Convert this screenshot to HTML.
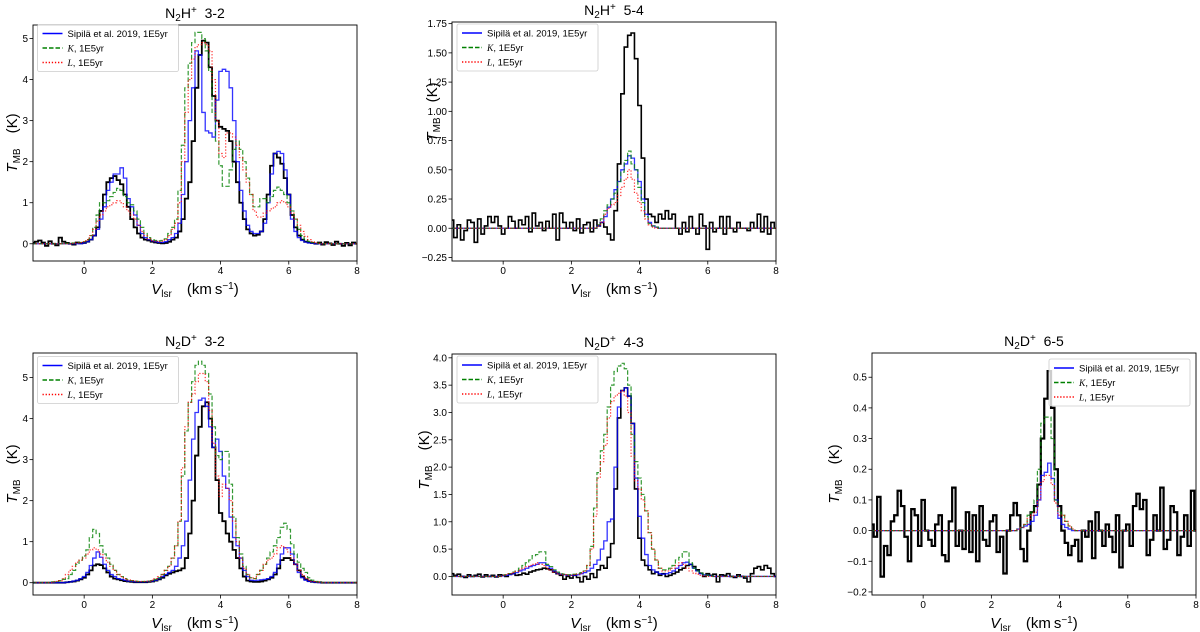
<!DOCTYPE html>
<html><head><meta charset="utf-8"><style>
html,body{margin:0;padding:0;background:#fff;}
svg{display:block;font-family:"Liberation Sans","DejaVu Sans",sans-serif;}
</style></head><body>
<svg id="chart" width="1200" height="632" viewBox="0 0 1200 632" xmlns="http://www.w3.org/2000/svg"></svg>
<script>
// ---- data (values in K, channels of 0.1 km/s; *Start = velocity of first channel) ----
const xTicks=[0,2,4,6,8];
const p1YTicks=[0,1,2,3,4,5];
const p2YTicks=[-0.25,0,0.25,0.5,0.75,1.0,1.25,1.5,1.75];
const p3YTicks=[0,1,2,3,4,5];
const p4YTicks=[0,0.5,1,1.5,2,2.5,3,3.5,4];
const p5YTicks=[-0.2,-0.1,0,0.1,0.2,0.3,0.4,0.5];
const p1YLabels=["0","1","2","3","4","5"];
const p2YLabels=["\u22120.25","0.00","0.25","0.50","0.75","1.00","1.25","1.50","1.75"];
const p3YLabels=["0","1","2","3","4","5"];
const p4YLabels=["0.0","0.5","1.0","1.5","2.0","2.5","3.0","3.5","4.0"];
const p5YLabels=["\u22120.2","\u22120.1","0.0","0.1","0.2","0.3","0.4","0.5"];

const p1ObsStart=-1.5;
const p1Obs=[0.02,0.05,0.08,0.03,-0.05,0.06,0,-0.04,0.15,0.05,0.02,0,-0.02,0.03,0.01,
0.02,0.05,0.1,0.2,0.4,0.8,1.2,1.5,1.6,1.65,1.55,1.45,1.2,0.9,0.6,0.4,0.25,0.15,0.1,0.08,0.05,0.03,0.02,0.01,0.02,0.05,0.1,0.15,0.3,0.6,1.1,1.5,2.5,3.8,4.6,4.95,4.9,4.3,3.6,3.0,2.85,2.8,2.75,2.5,2.0,1.5,1.0,0.6,0.35,0.25,0.2,0.22,0.3,0.6,1.2,1.9,2.2,2.1,1.95,1.6,1.2,0.7,0.4,0.2,0.1,0.05,0.03,
0.02,0,0.03,-0.02,0.04,0.01,-0.03,0.05,0,-0.05,0.02,-0.04,0.03];
const p1BlueStart=0.0;
const p1Blue=[0.02,0.05,0.1,0.2,0.35,0.6,0.9,1.3,1.5,1.7,1.7,1.85,1.6,1.1,0.9,0.7,0.45,0.25,0.15,0.1,0.07,0.05,0.03,0.03,0.05,0.1,0.15,0.25,0.5,1.2,2.0,3.0,3.8,4.7,4.6,3.2,2.75,2.7,2.6,3.5,4.2,4.25,4.2,3.8,3.0,2.0,1.3,0.8,0.45,0.3,0.25,0.25,0.3,0.5,1.0,1.7,2.2,2.25,2.2,1.8,1.2,0.6,0.3,0.15,0.08,0.04,0.02,0.01];
const p1GreenStart=-0.5;
const p1Green=[0.01,0.01,0.02,0.02,0.03,0.05,0.1,0.2,0.4,0.7,1.0,1.0,1.05,1.15,1.25,1.35,1.3,1.15,1.0,0.95,0.8,0.6,0.4,0.25,0.15,0.1,0.08,0.07,0.08,0.12,0.25,0.4,0.6,1.3,2.4,3.8,4.4,4.9,5.15,5.15,5.0,4.7,4.2,3.2,2.5,1.9,1.4,1.4,1.8,2.3,2.5,2.3,2.0,1.6,1.2,0.9,0.9,1.1,1.1,1.0,1.15,1.3,1.38,1.3,1.2,1.0,0.8,0.6,0.35,0.2,0.1,0.06,0.03,0.02,0.01];
const p1RedStart=-0.5;
const p1Red=[0,0,0.01,0.02,0.03,0.05,0.1,0.2,0.35,0.55,0.7,0.8,0.9,0.95,1.0,1.05,1.0,0.9,0.8,0.7,0.6,0.45,0.3,0.2,0.12,0.08,0.06,0.05,0.06,0.1,0.2,0.35,0.5,1.0,2.0,3.2,4.0,4.5,4.8,4.85,4.9,4.85,4.7,4.0,3.0,2.2,2.1,2.7,2.7,2.6,2.4,2.1,1.8,1.5,1.2,0.8,0.65,0.65,0.75,0.8,0.85,0.9,1.0,1.05,1.0,0.9,0.75,0.6,0.45,0.3,0.18,0.1,0.05,0.02,0.01];

const p2ObsStart=-1.5;
const p2Obs=[0.07,-0.08,0.03,-0.1,-0.02,0.07,0.05,-0.12,0.08,-0.05,0.02,0.1,0.05,0.1,0.02,-0.05,0.0,0.1,0.06,0.0,0.07,0.03,0.1,-0.03,0.13,0.02,0.05,-0.02,0.06,0.0,0.12,-0.1,0.13,0.05,0.0,0.05,-0.02,0.08,-0.04,0.03,0.05,-0.03,0.07,0.02,0.05,0.01,-0.05,-0.1,0.15,0.55,1.15,1.55,1.65,1.67,1.45,1.05,0.6,0.25,0.12,0.1,0.05,0.12,0.08,0.15,0.08,0.12,0.0,-0.05,0.05,-0.03,0.1,0.0,-0.05,0.12,0.02,-0.18,0.05,-0.03,0.0,0.1,-0.05,0.1,0.0,-0.03,0.05,0.0,0.0,-0.02,0.05,0.0,0.12,-0.03,0.1,-0.05,0.05];
const p2BlueStart=2.8;
const p2Blue=[0.02,0.05,0.1,0.18,0.25,0.33,0.4,0.5,0.55,0.62,0.6,0.5,0.4,0.25,0.12,0.05,0.02,0.01];
const p2GreenStart=2.8;
const p2Green=[0.03,0.08,0.15,0.2,0.25,0.3,0.4,0.48,0.58,0.66,0.55,0.5,0.35,0.22,0.1,0.04,0.02,0.01];
const p2RedStart=2.8;
const p2Red=[0.02,0.05,0.12,0.17,0.2,0.22,0.28,0.35,0.42,0.5,0.42,0.3,0.22,0.15,0.08,0.03,0.01];

const p3ObsStart=-0.5;
const p3Obs=[0.01,0.02,0.03,0.05,0.08,0.12,0.2,0.3,0.42,0.45,0.43,0.35,0.25,0.15,0.1,0.08,0.06,0.04,0.03,0.02,0.01,0.01,0.01,0.01,0.02,0.03,0.05,0.08,0.12,0.18,0.22,0.25,0.28,0.3,0.35,0.6,1.2,2.0,3.1,3.8,4.3,4.4,4.0,3.3,2.5,1.7,1.5,1.2,1.0,0.8,0.6,0.35,0.15,0.05,0.03,0.02,0.02,0.03,0.05,0.08,0.12,0.2,0.35,0.55,0.6,0.6,0.55,0.45,0.3,0.15,0.08,0.04,0.02,0.01,0.01];
const p3BlueStart=-0.5;
const p3Blue=[0.01,0.02,0.04,0.06,0.1,0.15,0.25,0.42,0.6,0.75,0.62,0.45,0.3,0.2,0.15,0.1,0.08,0.06,0.04,0.03,0.02,0.02,0.02,0.02,0.03,0.04,0.06,0.1,0.15,0.2,0.25,0.3,0.4,0.6,0.9,1.5,2.5,3.5,4.15,4.45,4.5,4.3,3.8,3.3,3.5,3.2,2.6,2.3,1.6,1.1,0.9,0.6,0.3,0.15,0.06,0.05,0.06,0.07,0.08,0.1,0.15,0.25,0.45,0.7,0.85,0.85,0.7,0.45,0.25,0.12,0.06,0.03,0.02,0.01];
const p3GreenStart=-1.0;
const p3Green=[0,0.02,0.03,0.05,0.08,0.1,0.2,0.3,0.45,0.55,0.65,0.8,1.1,1.3,1.2,0.9,0.7,0.6,0.45,0.3,0.2,0.15,0.1,0.07,0.05,0.04,0.03,0.03,0.03,0.04,0.05,0.08,0.12,0.2,0.3,0.4,0.6,0.9,1.5,2.6,3.7,4.4,4.9,5.3,5.4,5.3,5.1,4.6,3.8,3.1,3.0,3.2,3.2,2.4,1.6,1.1,0.7,0.4,0.2,0.12,0.1,0.2,0.3,0.45,0.6,0.75,0.9,1.1,1.35,1.45,1.3,0.95,0.7,0.5,0.35,0.25,0.12,0.06,0.03,0.01];
const p3RedStart=-1.0;
const p3Red=[0,0.02,0.03,0.05,0.1,0.2,0.3,0.4,0.5,0.55,0.6,0.7,0.8,0.85,0.8,0.7,0.6,0.5,0.4,0.3,0.2,0.15,0.1,0.07,0.05,0.04,0.03,0.03,0.03,0.04,0.06,0.1,0.15,0.2,0.3,0.4,0.6,0.9,1.5,2.8,3.8,4.4,4.6,4.9,5.1,5.1,4.9,4.2,3.4,2.6,2.1,2.4,2.3,2.0,1.5,1.0,0.6,0.35,0.2,0.12,0.1,0.2,0.3,0.45,0.55,0.6,0.7,0.85,0.9,0.85,0.75,0.6,0.45,0.3,0.2,0.12,0.06,0.03,0.02,0.01];

const p4ObsStart=-1.5;
const p4Obs=[0.05,0.02,0.04,0,-0.02,0.03,0,0.02,0.04,-0.01,0.03,0,0.02,-0.01,0.03,
0.02,0,0.04,0.05,0.02,0.03,0.06,0.04,0.08,0.1,
0.12,0.13,0.15,0.14,0.12,0.08,0.05,0.02,-0.05,0.0,
-0.03,0.02,-0.02,-0.1,0.0,-0.05,0.05,-0.02,0.12,0.2,
0.15,0.35,0.6,1.6,2.9,3.4,3.45,3.3,2.8,1.6,
0.7,0.3,0.2,0.12,0.05,0.08,0.02,0.05,0.0,0.02,
0.05,0.08,0.12,0.15,0.2,0.22,0.18,0.12,0.06,0.0,
0.05,0.02,0.04,-0.1,0.03,0.02,0.05,0.0,-0.02,0.03,
0.0,-0.03,-0.1,0.05,0.15,0.18,0.12,0.2,0.15,0.05];
const p4BlueStart=0.0;
const p4Blue=[0.01,0.02,0.03,0.05,0.07,0.1,0.12,0.15,0.18,0.2,0.22,0.25,0.25,0.2,0.15,0.1,0.06,0.04,0.03,0.02,0.02,0.02,0.03,0.05,0.07,0.1,0.15,0.22,0.3,0.5,0.65,1.0,1.05,2.0,3.1,3.4,3.45,3.3,2.8,1.8,1.1,0.7,0.4,0.2,0.12,0.08,0.05,0.04,0.05,0.07,0.1,0.15,0.2,0.25,0.26,0.22,0.15,0.1,0.05,0.03,0.02,0.01];
const p4GreenStart=0.0;
const p4Green=[0.02,0.03,0.05,0.08,0.1,0.15,0.2,0.25,0.3,0.38,0.4,0.45,0.45,0.22,0.18,0.12,0.08,0.05,0.04,0.03,0.03,0.04,0.05,0.07,0.1,0.2,0.55,1.25,1.9,2.3,2.6,3.1,3.5,3.75,3.85,3.9,3.8,3.5,2.6,2.1,1.8,1.5,1.2,0.8,0.5,0.3,0.15,0.12,0.12,0.15,0.2,0.3,0.35,0.45,0.45,0.25,0.15,0.1,0.06,0.04,0.02,0.01];
const p4RedStart=0.0;
const p4Red=[0.02,0.03,0.05,0.07,0.09,0.12,0.15,0.18,0.2,0.22,0.25,0.22,0.2,0.15,0.12,0.08,0.05,0.04,0.03,0.02,0.02,0.03,0.04,0.06,0.1,0.2,0.5,1.1,1.8,2.1,2.4,2.9,3.2,3.3,3.35,3.4,3.3,3.0,2.2,1.75,1.6,1.4,1.2,0.8,0.5,0.3,0.15,0.1,0.1,0.12,0.15,0.2,0.25,0.22,0.15,0.1,0.06,0.04,0.02,0.01];

const p5ObsStart=-1.5;
const p5Obs=[0.02,-0.02,0.11,-0.15,-0.05,-0.08,0.03,0.05,0.13,0.08,
-0.02,-0.1,0.07,0.05,-0.05,0.1,0.0,-0.03,-0.05,0.02,
0.05,-0.08,-0.1,0.03,0.14,-0.05,0.0,-0.06,0.06,-0.07,
0.05,-0.1,0.08,-0.03,-0.05,0.03,0.05,-0.07,-0.02,-0.14,
0.0,0.05,0.09,0.05,-0.06,-0.1,0.0,0.06,0.08,0.15,
0.3,0.43,0.52,0.4,0.2,0.08,0.0,-0.04,-0.08,-0.05,
-0.03,-0.1,0.0,-0.02,0.03,-0.09,0.06,0.0,-0.05,0.02,
-0.02,-0.07,0.05,-0.12,0.0,0.02,-0.05,0.08,0.12,0.07,
0.1,-0.08,-0.03,0.05,0.0,0.14,-0.06,-0.03,0.08,0.06,
-0.08,-0.02,0.05,-0.05,0.13];
const p5BlueStart=2.8;
const p5Blue=[0.005,0.01,0.015,0.02,0.03,0.05,0.1,0.18,0.19,0.22,0.17,0.1,0.04,0.02,0.01,0.005];
const p5GreenStart=2.8;
const p5Green=[0.005,0.01,0.02,0.05,0.06,0.1,0.2,0.35,0.37,0.37,0.3,0.1,0.06,0.05,0.03,0.015,0.005];
const p5RedStart=2.8;
const p5Red=[0.005,0.01,0.02,0.04,0.05,0.06,0.1,0.16,0.18,0.18,0.15,0.09,0.05,0.05,0.03,0.015,0.005];

const NS="http://www.w3.org/2000/svg";
const svg=document.getElementById('chart');
function mk(tag,attrs,parent){const e=document.createElementNS(NS,tag);for(const k in attrs)e.setAttribute(k,attrs[k]);(parent||svg).appendChild(e);return e;}

const panels=[
 {id:'n2h-32',mol:['N','2','H','+',' 3-2'],L:33,R:357,T:25,B:261,y0:-0.42,y1:5.33,yt:p1YTicks,yl:p1YLabels,obs:[p1ObsStart,p1Obs],blue:[p1BlueStart,p1Blue],green:[p1GreenStart,p1Green],red:[p1RedStart,p1Red],leg:[37.5,24.5],ylx:12,yly:143,obsW:1.8},
 {id:'n2h-54',mol:['N','2','H','+',' 5-4'],L:452,R:776,T:22,B:261,y0:-0.28,y1:1.764,yt:p2YTicks,yl:p2YLabels,obs:[p2ObsStart,p2Obs],blue:[p2BlueStart,p2Blue],green:[p2GreenStart,p2Green],red:[p2RedStart,p2Red],leg:[457,24],ylx:432,yly:112,obsW:1.6},
 {id:'n2d-32',mol:['N','2','D','+',' 3-2'],L:33,R:357,T:353,B:595,y0:-0.3,y1:5.6,yt:p3YTicks,yl:p3YLabels,obs:[p3ObsStart,p3Obs],blue:[p3BlueStart,p3Blue],green:[p3GreenStart,p3Green],red:[p3RedStart,p3Red],leg:[37.5,356.5],ylx:12,yly:474,obsW:1.8},
 {id:'n2d-43',mol:['N','2','D','+',' 4-3'],L:452,R:776,T:354,B:595,y0:-0.34,y1:4.07,yt:p4YTicks,yl:p4YLabels,obs:[p4ObsStart,p4Obs],blue:[p4BlueStart,p4Blue],green:[p4GreenStart,p4Green],red:[p4RedStart,p4Red],leg:[457,356],ylx:424,yly:460,obsW:1.6},
 {id:'n2d-65',mol:['N','2','D','+',' 6-5'],L:872,R:1196,T:353,B:595,y0:-0.21,y1:0.579,yt:p5YTicks,yl:p5YLabels,obs:[p5ObsStart,p5Obs],blue:[p5BlueStart,p5Blue],green:[p5GreenStart,p5Green],red:[p5RedStart,p5Red],leg:[1049,359],ylx:834,yly:474,obsW:2.2}
];
const XMIN=-1.5,XMAX=8,DV=0.1;

panels.forEach((p,pi)=>{
 const g=mk('g',{});
 
 
 const X=v=>p.L+(v-XMIN)/(XMAX-XMIN)*(p.R-p.L);
 const Y=t=>p.B-(t-p.y0)/(p.y1-p.y0)*(p.B-p.T);
 const cid='clip'+pi;
 const cp=mk('clipPath',{id:cid},g);mk('rect',{x:p.L,y:p.T,width:p.R-p.L,height:p.B-p.T},cp);
 function stepPath(start,vals){
   let d='';
   vals.forEach((val,i)=>{const v=start+i*DV;const xa=X(v-DV/2),xb=X(v+DV/2),y=Y(val);
     d+=(i===0?'M':'L')+xa.toFixed(2)+','+y.toFixed(2)+'L'+xb.toFixed(2)+','+y.toFixed(2);});
   const s=X(XMIN-0.2),e=X(XMAX+0.2),y0=Y(0).toFixed(2);
   return 'M'+s.toFixed(2)+','+y0+'L'+X(start-DV/2).toFixed(2)+','+y0+'L'+d.slice(1)+'L'+X(start+(vals.length-0.5)*DV).toFixed(2)+','+y0+'L'+e.toFixed(2)+','+y0;
 }
 const series=[
  ['observed-spectrum',p.obs,'#000',p.obsW,null,1],
  ['sipila-model',p.blue,'#0000ff',1.3,null,0.8],
  ['k-model',p.green,'#008000',1.2,'4.5,2',0.8],
  ['l-model',p.red,'#ff0000',1.2,'1.3,1.8',0.8]];
 series.forEach(s=>{
   const path=mk('path',{d:stepPath(s[1][0],s[1][1]),fill:'none',stroke:s[2],'stroke-width':s[3],'stroke-opacity':s[5],'clip-path':'url(#'+cid+')','stroke-linejoin':'miter'},g);
   if(s[4])path.setAttribute('stroke-dasharray',s[4]);
   
   
 });
 const frame=mk('rect',{x:p.L,y:p.T,width:p.R-p.L,height:p.B-p.T,fill:'none',stroke:'#000','stroke-width':0.9},g);
 
 
 xTicks.forEach(t=>{const x=X(t);
   mk('line',{x1:x,x2:x,y1:p.B,y2:p.B+3.5,stroke:'#000','stroke-width':0.8},g);
   const tx=mk('text',{x:x,y:p.B+13,'font-size':10,'text-anchor':'middle',fill:'#000'},g);tx.textContent=String(t);
   
   
 });
 p.yt.forEach((t,i)=>{const y=Y(t);
   mk('line',{x1:p.L-3.5,x2:p.L,y1:y,y2:y,stroke:'#000','stroke-width':0.8},g);
   const tx=mk('text',{x:p.L-5,y:y+3.5,'font-size':10,'text-anchor':'end',fill:'#000'},g);tx.textContent=p.yl[i];
   
   
 });
 const cx=(p.L+p.R)/2;
 const tt=mk('text',{x:cx,y:p.T-7,'font-size':14,'text-anchor':'middle',fill:'#000'},g);
 
 
 tt.innerHTML=p.mol[0]+'<tspan font-size="10" dy="3">'+p.mol[1]+'</tspan><tspan dy="-3">'+p.mol[2]+'</tspan><tspan font-size="10" dy="-5">'+p.mol[3]+'</tspan><tspan dy="5">\u00a0'+p.mol[4]+'</tspan>';
 const xl=mk('text',{x:cx,y:p.B+33,'font-size':15,'text-anchor':'middle',fill:'#000'},g);
 
 
 xl.innerHTML='<tspan font-style="italic">V</tspan><tspan font-size="10" dy="3">lsr</tspan><tspan dy="-3">\u2003(km\u2009s</tspan><tspan font-size="10" dy="-5">\u22121</tspan><tspan dy="5">)</tspan>';
 const yl=mk('text',{x:0,y:0,'font-size':15,'text-anchor':'middle',fill:'#000',transform:'translate('+(p.ylx+5)+','+p.yly+') rotate(-90)'},g);
 
 
 yl.innerHTML='<tspan font-style="italic">T</tspan><tspan font-size="10" dy="3">MB</tspan><tspan dy="-3">\u2003(K)</tspan>';
 const lx=p.leg[0],ly=p.leg[1];
 const lg=mk('g',{},g);
 
 
 mk('rect',{x:lx,y:ly,width:141,height:47,fill:'#fff','fill-opacity':0.8,stroke:'#ccc','stroke-width':0.8,rx:2},lg);
 const lines=[['#0000ff',null],['#008000','4.5,2'],['#ff0000','1.3,1.8']];
 const labels=['Sipil\u00e4 et al. 2019, 1E5yr','<tspan font-family="Liberation Serif" font-style="italic">K</tspan>, 1E5yr','<tspan font-family="Liberation Serif" font-style="italic">L</tspan>, 1E5yr'];
 const names=['legend-entry-sipila','legend-entry-k','legend-entry-l'];
 lines.forEach((l,i)=>{const yy=ly+9+i*14.5;
   const ln=mk('line',{x1:lx+5,x2:lx+25,y1:yy,y2:yy,stroke:l[0],'stroke-width':1.4},lg);
   if(l[1])ln.setAttribute('stroke-dasharray',l[1]);
   const t=mk('text',{x:lx+30,y:yy+3.5,'font-size':9.5,fill:'#000'},lg);
   t.innerHTML=labels[i];
   
   
 });
});
</script>
</body></html>
